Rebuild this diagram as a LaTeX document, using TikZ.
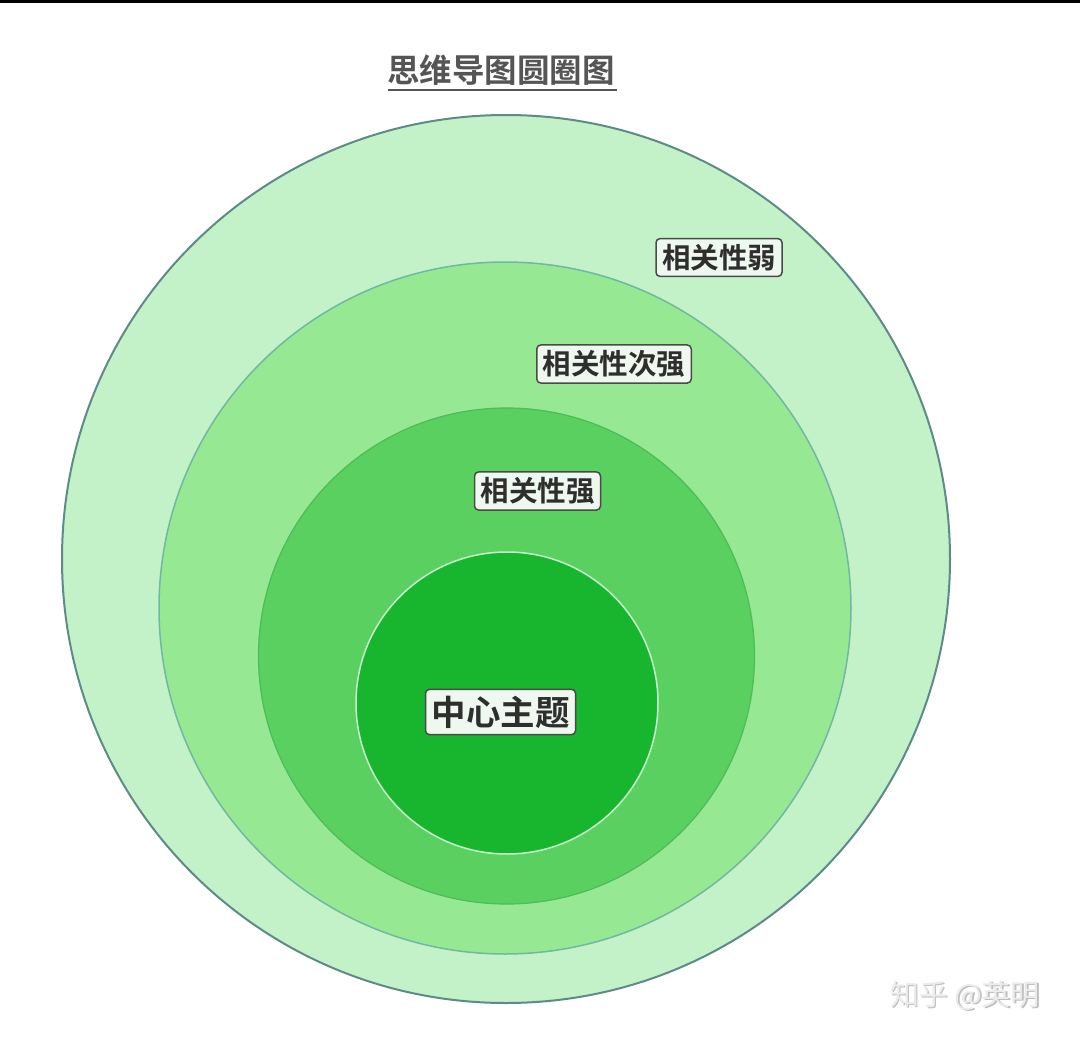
\documentclass[tikz,border=0pt]{standalone}
\usepackage{fontspec}
\newfontfamily\cjk{Noto Sans CJK SC}
\newfontfamily\cjkb{Noto Sans CJK SC Bold}
\definecolor{ring1}{HTML}{C4F2C8}
\definecolor{ring2}{HTML}{97E893}
\definecolor{ring3}{HTML}{5AD060}
\definecolor{ring4}{HTML}{18B52E}
\definecolor{edge1}{HTML}{5E8A88}
\definecolor{edge2}{HTML}{6FB8A2}
\definecolor{edge3}{HTML}{4DBB57}
\definecolor{edge4}{HTML}{C8F0CC}
\definecolor{tagfill}{HTML}{EEF8EE}
\definecolor{tagline}{HTML}{4A4A4A}
\definecolor{tagtext}{HTML}{2E2E2E}
\definecolor{titletext}{HTML}{555555}
\tikzset{
  tagbox/.style={draw=tagline, fill=tagfill, line width=1.5pt, rounded corners=4pt,
    text=tagtext, font=\cjkb\fontsize{28.5}{30}\selectfont, inner xsep=6pt, inner ysep=5.5pt},
  bigtag/.style={tagbox, font=\cjkb\fontsize{34.5}{36}\selectfont, inner xsep=6pt, inner ysep=6.5pt}
}
\begin{document}
\begin{tikzpicture}[x=1pt,y=-1pt]
\useasboundingbox (0,0) rectangle (1080,1044);
\fill[white] (0,0) rectangle (1080,1044);
\fill[black] (0,0) rectangle (1080,2.5);
% title
\node[text=titletext, font=\cjkb\fontsize{32.5}{34}\selectfont, inner sep=0pt] (title) at (501,70) {思维导图圆圈图};
\draw[titletext, line width=1.5pt] (388,90) -- (617,90);
% circles
\filldraw[fill=ring1, draw=edge1, line width=2pt] (506,559) circle [radius=444pt];
\filldraw[fill=ring2, draw=edge2, line width=1.5pt] (505,608) circle [radius=346pt];
\filldraw[fill=ring3, draw=edge3, line width=1.2pt] (506.5,656) circle [radius=248pt];
\filldraw[fill=ring4, draw=edge4, line width=1.5pt] (507,703) circle [radius=151pt];
% labels
\node[tagbox] (weak) at (719,257.5) {相关性弱};
\node[tagbox] (second) at (614,364) {相关性次强};
\node[tagbox] (strong) at (537.5,491) {相关性强};
\node[bigtag] (center) at (500.5,712) {中心主题};
% watermark
\node[text=black!25, font=\cjk\fontsize{29}{31}\selectfont, inner sep=0pt] (wm2) at (966.5,997) {知乎 @英明};
\node[text=black!8, font=\cjk\fontsize{29}{31}\selectfont, inner sep=0pt] (wm) at (965,996) {知乎 @英明};
\end{tikzpicture}
\end{document}
